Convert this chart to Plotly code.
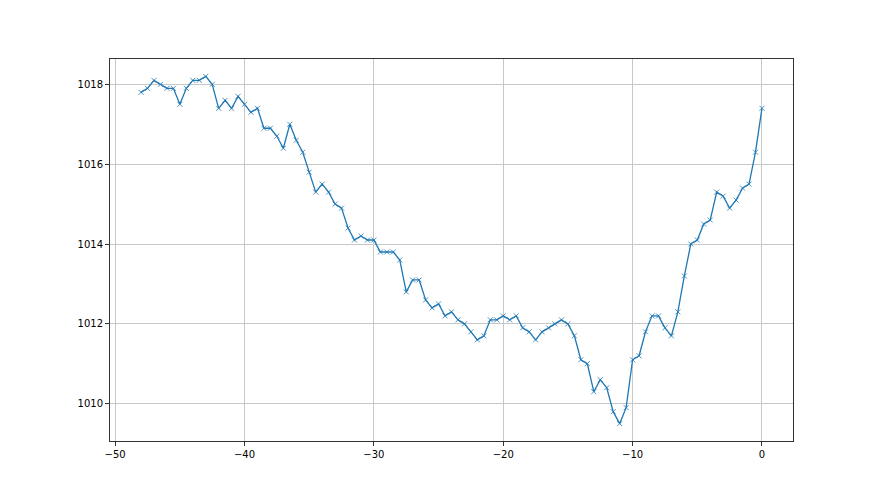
import plotly.graph_objects as go

hours = [-48.0, -47.5, -47.0, -46.5, -46.0, -45.5, -45.0, -44.5, -44.0, -43.5,
         -43.0, -42.5, -42.0, -41.5, -41.0, -40.5, -40.0, -39.5, -39.0, -38.5,
         -38.0, -37.5, -37.0, -36.5, -36.0, -35.5, -35.0, -34.5, -34.0, -33.5,
         -33.0, -32.5, -32.0, -31.5, -31.0, -30.5, -30.0, -29.5, -29.0, -28.5,
         -28.0, -27.5, -27.0, -26.5, -26.0, -25.5, -25.0, -24.5, -24.0, -23.5,
         -23.0, -22.5, -22.0, -21.5, -21.0, -20.5, -20.0, -19.5, -19.0, -18.5,
         -18.0, -17.5, -17.0, -16.5, -16.0, -15.5, -15.0, -14.5, -14.0, -13.5,
         -13.0, -12.5, -12.0, -11.5, -11.0, -10.5, -10.0, -9.5, -9.0, -8.5,
         -8.0, -7.5, -7.0, -6.5, -6.0, -5.5, -5.0, -4.5, -4.0, -3.5,
         -3.0, -2.5, -2.0, -1.5, -1.0, -0.5, 0.0]

pressure = [1017.8, 1017.9, 1018.1, 1018.0, 1017.9, 1017.9, 1017.5, 1017.9, 1018.1, 1018.1,
            1018.2, 1018.0, 1017.4, 1017.6, 1017.4, 1017.7, 1017.5, 1017.3, 1017.4, 1016.9,
            1016.9, 1016.7, 1016.4, 1017.0, 1016.6, 1016.3, 1015.8, 1015.3, 1015.5, 1015.3,
            1015.0, 1014.9, 1014.4, 1014.1, 1014.2, 1014.1, 1014.1, 1013.8, 1013.8, 1013.8,
            1013.6, 1012.8, 1013.1, 1013.1, 1012.6, 1012.4, 1012.5, 1012.2, 1012.3, 1012.1,
            1012.0, 1011.8, 1011.6, 1011.7, 1012.1, 1012.1, 1012.2, 1012.1, 1012.2, 1011.9,
            1011.8, 1011.6, 1011.8, 1011.9, 1012.0, 1012.1, 1012.0, 1011.7, 1011.1, 1011.0,
            1010.3, 1010.6, 1010.4, 1009.8, 1009.5, 1009.9, 1011.1, 1011.2, 1011.8, 1012.2,
            1012.2, 1011.9, 1011.7, 1012.3, 1013.2, 1014.0, 1014.1, 1014.5, 1014.6, 1015.3,
            1015.2, 1014.9, 1015.1, 1015.4, 1015.5, 1016.3, 1017.4]

x_ticks = [-50, -40, -30, -20, -10, 0]
y_ticks = [1010, 1012, 1014, 1016, 1018]

color = "#1f77b4"

fig = go.Figure()
fig.add_trace(go.Scatter(
    x=hours, y=pressure, mode="lines+markers",
    line=dict(color=color, width=1.3),
    marker=dict(symbol="x-thin", size=5, color=color, line=dict(color=color, width=0.8)),
    showlegend=False, hoverinfo="x+y",
))

xmin, xmax = min(hours), max(hours)
ymin, ymax = min(pressure), max(pressure)
xpad = (xmax - xmin) * 0.05
ypad = (ymax - ymin) * 0.05

axis_common = dict(
    showline=True, linecolor="#333333", linewidth=1, mirror=True,
    showgrid=True, gridcolor="#c8c8c8", gridwidth=1,
    zeroline=False, ticks="outside", ticklen=4, tickwidth=0.8, tickcolor="#333333",
    tickfont=dict(family="DejaVu Sans", size=10, color="black"),
)

# page body has an 8px default margin, so the figure is offset by (8, 8)
fig.update_layout(
    width=880, height=495,
    margin=dict(l=102, r=95, t=51, b=62),
    paper_bgcolor="white", plot_bgcolor="white",
    xaxis=dict(range=[xmin - xpad, xmax + xpad], tickvals=x_ticks, **axis_common),
    yaxis=dict(range=[ymin - ypad, ymax + ypad], tickvals=y_ticks, **axis_common),
)

fig.write_html("out.html")
